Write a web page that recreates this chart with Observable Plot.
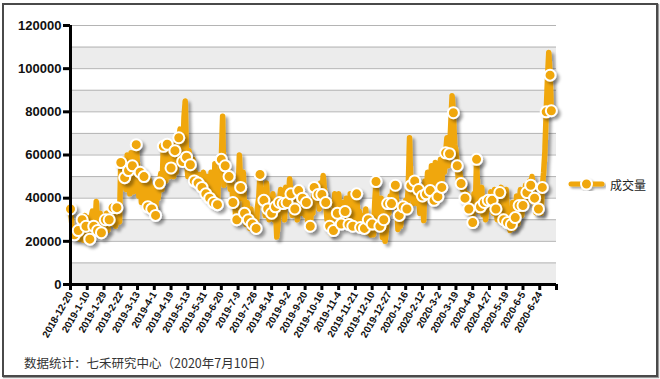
<!DOCTYPE html>
<html><head><meta charset="utf-8">
<script src="https://cdn.jsdelivr.net/npm/d3@7"></script>
<script src="https://cdn.jsdelivr.net/npm/@observablehq/plot@0.6"></script>
<style>
html,body{margin:0;padding:0;background:#fff;}
#wrap{position:relative;width:660px;height:379px;overflow:hidden;font-family:"Liberation Sans",Arial,sans-serif;}
#frame{position:absolute;left:2px;top:3px;width:652px;height:370px;border:2px solid #4a4a4a;box-shadow:1px 1px 1px #999;}
#chart{position:absolute;left:0;top:0;}
#legend{position:absolute;left:568px;top:175px;display:flex;align-items:center;font-family:"Noto Sans CJK SC",sans-serif;font-size:12px;color:#222;}
#caption{position:absolute;left:24px;top:353px;font-family:"Noto Sans CJK SC",sans-serif;font-size:12.5px;color:#333;}
</style></head>
<body><div id="wrap"><div id="frame"></div><div id="chart"></div>
<div id="legend"><svg width="38" height="18"><defs><filter id="lsh"><feDropShadow dx="2" dy="2" stdDeviation="1.2" flood-color="#000" flood-opacity="0.35"/></filter></defs><g filter="url(#lsh)"><line x1="3" y1="9" x2="34" y2="9" stroke="#F0A70A" stroke-width="5" stroke-linecap="round"/><circle cx="18.5" cy="9" r="5.5" fill="#F0A70A" stroke="#fff" stroke-width="2"/></g></svg><span style="margin-left:4px">成交量</span></div>
<div id="caption">数据统计：七禾研究中心（2020年7月10日）</div></div>
<script>
const seriesName = "成交量";
const tickLabels = ["2018-12-20","2019-1-10","2019-1-29","2019-2-22","2019-3-13","2019-4-1","2019-4-19","2019-5-13","2019-5-31","2019-6-20","2019-7-9","2019-7-26","2019-8-14","2019-9-2","2019-9-20","2019-10-16","2019-11-4","2019-11-21","2019-12-10","2019-12-27","2020-1-16","2020-2-12","2020-3-2","2020-3-19","2020-4-8","2020-4-27","2020-5-19","2020-6-5","2020-6-24"];
const daysPerLabel = 13;
const volume = [
35000,28000,24000,23000,22000,26000,25000,21000,25500,30000,20500,32000,27000,
31000,23000,21000,31000,34000,27000,27000,38500,25000,29600,33000,24000,30000,
26000,30000,33000,25000,30000,35000,28000,35600,33000,27000,35600,34000,29000,
56500,47000,58000,49500,44000,60000,52800,42000,61000,55000,43000,60000,64800,
55000,41000,52000,38000,46800,50000,40000,46800,36000,48600,42000,35000,45000,
38000,32000,45000,40000,47000,51400,44000,64000,53700,48000,65000,54000,50000,
54000,65000,50000,62000,52000,68000,68000,72000,57000,57000,77000,85000,59000,
50000,62000,55500,52000,58000,48000,52000,47000,47000,51000,44000,45000,52000,
49000,42000,50000,44500,40000,52000,43000,38000,56000,41000,37000,52000,48000,
58000,78000,46000,55000,50000,53000,50000,44000,48000,38000,43000,32500,30000,
41000,60000,45000,40000,52000,33000,27800,38000,30000,26000,35000,28000,26800,
30000,26000,35600,40000,51000,38000,44000,39000,32000,47000,35000,30000,38000,
33000,42000,30000,36000,22000,28000,38000,44000,34000,37500,30000,45000,38000,
40000,49000,42000,32000,44000,35000,40000,30000,43500,37500,33000,40000,36000,
32000,38000,29000,31500,27000,35000,33000,45000,38000,44500,41700,35000,47000,
41700,50500,44000,38000,30000,35000,27000,23600,30000,25000,42000,29600,33000,
42000,35000,28000,38000,30000,33800,40000,31000,27800,42000,32000,27000,30500,
36000,42000,30500,34000,26400,32000,28000,26000,35000,24000,30000,25000,23000,
28000,23000,38000,47700,35000,30000,27000,40000,21800,30000,20000,25000,37500,
33000,41000,37500,45000,40000,46000,38000,25500,32000,27000,31500,36000,33000,
39000,35000,45000,68000,45800,42000,37500,48000,38000,37500,44000,33000,39000,
41000,29600,48000,42000,52000,40000,43500,55000,38000,39000,56500,45000,40700,
50000,58000,45000,60600,52000,61000,68000,55000,60600,74500,87500,79600,65000,
62000,55000,48000,52000,46800,44000,48000,40000,38000,42000,35000,33000,40000,
28700,42000,35000,58000,42000,33800,36000,45000,32400,38000,30000,36000,39000,
35000,43000,39000,33000,44000,35000,30000,38000,42600,45000,36000,30000,38000,
44000,28700,34000,25000,27800,38000,26000,31000,41000,28000,36600,44000,32000,
36600,40000,46000,42600,38000,48000,46000,50000,44000,40000,33300,38000,35000,
36000,33000,45000,52000,61600,80000,95000,107500,97000,80500
];
const yTicks = [0,20000,40000,60000,80000,100000,120000];
const color = "#F0A70A";

const data = volume.map((v,i)=>({i, v}));
const xMax = daysPerLabel * tickLabels.length; // 377
const markers = data.filter(d => d.i % 3 === 0 || d.i === data.length-1);
const bands = d3.range(0, 120000, 20000).map(lo => ({lo, hi: lo + 10000}));

const chart = Plot.plot({
  width: 660, height: 350,
  marginLeft: 70, marginRight: 104, marginTop: 25, marginBottom: 66,
  style: {fontFamily: '"Liberation Sans", Arial, sans-serif', background: "transparent", overflow: "visible"},
  x: {domain: [0, xMax]},
  y: {domain: [0, 120000]},
  marks: [
    Plot.rect(bands, {x1: () => 0, x2: () => xMax, y1: "lo", y2: "hi", fill: "#ececec"}),
    Plot.gridY({ticks: d3.range(0, 120001, 10000), stroke: "#b4b4b4", strokeOpacity: 1}),
    Plot.line(data, {x: "i", y: "v", stroke: color, strokeWidth: 5.5, strokeLinejoin: "round", strokeLinecap: "round"}),
    Plot.dot(markers, {x: "i", y: "v", r: 5.5, fill: color, stroke: "#fff", strokeWidth: 2}),
    Plot.axisY({ticks: yTicks, tickFormat: d3.format("d"), tickSize: 7, tickPadding: 2, fontSize: 13, fontWeight: "bold", strokeWidth: 3, label: null, fill: "#111"}),
    Plot.axisX({ticks: d3.range(0, xMax + 1, daysPerLabel), tickFormat: d => tickLabels[d / daysPerLabel] ?? "", tickRotate: -60, tickSize: 6, tickPadding: 2, fontSize: 10, fontWeight: "bold", strokeWidth: 3, label: null, fill: "#111"}),
    Plot.ruleY([0], {stroke: "#000", strokeWidth: 3}),
    Plot.ruleX([0], {stroke: "#000", strokeWidth: 3})
  ]
});
document.getElementById("chart").appendChild(chart);
const svg = d3.select(chart);
svg.insert("defs", ":first-child").html('<filter id="sh" x="-10%" y="-10%" width="130%" height="130%"><feDropShadow dx="3" dy="3" stdDeviation="1.5" flood-color="#000" flood-opacity="0.35"/></filter>');
svg.selectAll('g[aria-label="line"], g[aria-label="dot"]').attr("filter", "url(#sh)");
</script></body></html>
